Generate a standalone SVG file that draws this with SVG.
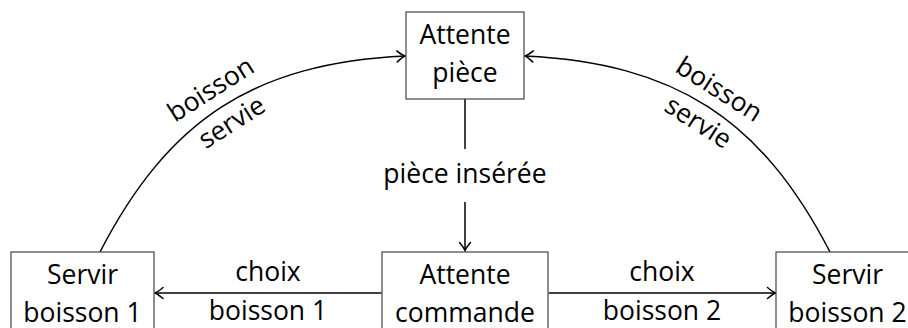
<svg xmlns="http://www.w3.org/2000/svg" width="908" height="328" viewBox="0 0 908 328">
<defs>
<style>
.box{fill:#fff;stroke:#444;stroke-width:1.2}
.t{font-family:"Open Sans","Noto Sans",sans-serif;font-size:26.5px;fill:#000;text-anchor:middle}
.c{fill:none;stroke:#000;stroke-width:1.5}
</style>
<marker id="ah" markerUnits="userSpaceOnUse" viewBox="-10 -7 12 14" markerWidth="12" markerHeight="14" refX="0" refY="0" orient="auto">
<path d="M-8,-5.5 Q-3,-1.2 0,0 Q-3,1.2 -8,5.5" fill="none" stroke="#000" stroke-width="1.5" stroke-linecap="round"/>
</marker>
</defs>
<rect width="908" height="328" fill="#fff"/>
<g id="connectors">
<path class="c" d="M100,252 C168.8,118.7 255.2,63.1 405,56" marker-end="url(#ah)"/>
<path class="c" d="M830,252 C761.2,118.7 674.8,63.1 525,56" marker-end="url(#ah)"/>
<line class="c" x1="465" y1="99" x2="465" y2="149"/>
<line class="c" x1="465" y1="202" x2="465" y2="250.5" marker-end="url(#ah)"/>
<line class="c" x1="381.5" y1="293" x2="155" y2="293" marker-end="url(#ah)"/>
<line class="c" x1="548.5" y1="293" x2="775.5" y2="293" marker-end="url(#ah)"/>
<g transform="translate(222,107) rotate(-32.5)">
<text class="t" x="0" y="-12">boisson</text>
<text class="t" x="0" y="27">servie</text>
</g>
<g transform="translate(708,107) rotate(32.5)">
<text class="t" x="0" y="-12">boisson</text>
<text class="t" x="0" y="27">servie</text>
</g>
<text class="t" x="465" y="183">pièce insérée</text>
<text class="t" x="268" y="281">choix</text>
<text class="t" x="268" y="320">boisson 1</text>
<text class="t" x="662" y="281">choix</text>
<text class="t" x="662" y="320">boisson 2</text>
</g>
<g id="attente-piece">
<rect class="box" x="406" y="12" width="118" height="87"/>
<text class="t" x="465" y="43.5">Attente</text>
<text class="t" x="465" y="81.5">pièce</text>
</g>
<g id="attente-commande">
<rect class="box" x="382" y="252" width="166" height="88"/>
<text class="t" x="465" y="283.5">Attente</text>
<text class="t" x="465" y="321.5">commande</text>
</g>
<g id="servir-boisson-1">
<rect class="box" x="11" y="252" width="143" height="88"/>
<text class="t" x="82.5" y="283.5">Servir</text>
<text class="t" x="82.5" y="321.5">boisson 1</text>
</g>
<g id="servir-boisson-2">
<rect class="box" x="776" y="252" width="143" height="88"/>
<text class="t" x="847.5" y="283.5">Servir</text>
<text class="t" x="847.5" y="321.5">boisson 2</text>
</g>
</svg>
